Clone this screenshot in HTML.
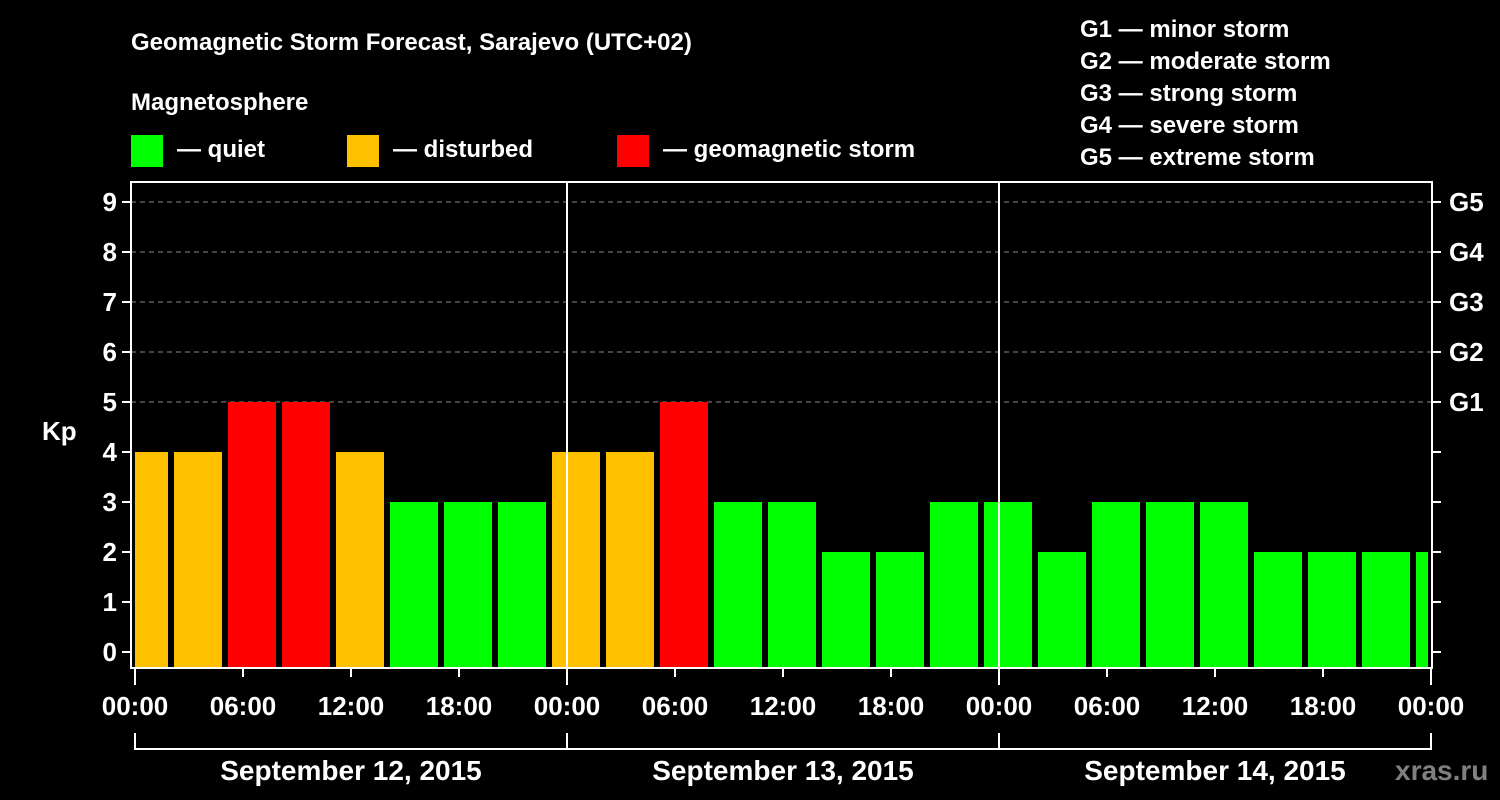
<!DOCTYPE html>
<html><head><meta charset="utf-8"><style>
body{margin:0;background:#000;width:1500px;height:800px;overflow:hidden}
svg{display:block}
text{font-family:"Liberation Sans",Arial,sans-serif;font-weight:bold;fill:#fff}
</style></head><body>
<svg id="c" width="1500" height="800">
<text x="131" y="50" font-size="24">Geomagnetic Storm Forecast, Sarajevo (UTC+02)</text>
<text x="131" y="110" font-size="24">Magnetosphere</text>
<g><rect x="131" y="135" width="32" height="32" fill="#00ff00"/><text x="177" y="157" font-size="24">— quiet</text></g>
<g><rect x="347" y="135" width="32" height="32" fill="#ffc000"/><text x="393" y="157" font-size="24">— disturbed</text></g>
<g><rect x="617" y="135" width="32" height="32" fill="#ff0000"/><text x="663" y="157" font-size="24">— geomagnetic storm</text></g>
<g font-size="24">
<text x="1080" y="37">G1 — minor storm</text>
<text x="1080" y="69">G2 — moderate storm</text>
<text x="1080" y="101">G3 — strong storm</text>
<text x="1080" y="133">G4 — severe storm</text>
<text x="1080" y="165">G5 — extreme storm</text>
</g>
<text x="42" y="440" font-size="26">Kp</text>
<g id="grid"></g><g id="bars"></g><g id="axes"></g>
<text x="1395" y="780" font-size="28" fill="#808080" style="fill:#808080">xras.ru</text>
</svg>
<script>
const kpValues=[4,4,5,5,4,3,3,3,4,4,5,3,3,2,2,3,3,2,3,3,3,2,2,2,2];
const yTicks=[0,1,2,3,4,5,6,7,8,9];
const gLabels=["G1","G2","G3","G4","G5"];
const xTickLabels=["00:00","06:00","12:00","18:00","00:00","06:00","12:00","18:00","00:00","06:00","12:00","18:00","00:00"];
const dayLabels=["September 12, 2015","September 13, 2015","September 14, 2015"];
const NS="http://www.w3.org/2000/svg";
const X0=135,HPX=18,L=131,R=1432,T=182,B=668;
const xh=h=>X0+h*HPX;
const yv=v=>652-v*50;
function mk(p,tag,a){const e=document.createElementNS(NS,tag);for(const k in a)e.setAttribute(k,a[k]);p.appendChild(e);return e;}
const grid=document.getElementById('grid'),bars=document.getElementById('bars'),axes=document.getElementById('axes');
mk(grid,'rect',{x:L,y:T,width:R-L,height:B-T,fill:'#000'});
for(let v=5;v<=9;v++){const g=mk(grid,'line',{x1:L,x2:R,y1:yv(v),y2:yv(v),stroke:'#888','stroke-dasharray':'5,4','stroke-width':1});

}
kpValues.forEach((v,i)=>{
 let x1=xh(-1+3*i)+3,x2=xh(2+3*i)-3;x1=Math.max(x1,L+4);x2=Math.min(x2,R-4);
 const c=v>=5?'#ff0000':(v>=4?'#ffc000':'#00ff00');
 const r=mk(bars,'rect',{x:x1,y:yv(v),width:x2-x1,height:B-yv(v),fill:c});
 
 
});
for(let d=1;d<3;d++){const l=mk(axes,'line',{x1:xh(24*d),x2:xh(24*d),y1:T,y2:B,stroke:'#fff','stroke-width':2});

}
mk(axes,'rect',{x:L,y:T,width:R-L,height:B-T,fill:'none',stroke:'#fff','stroke-width':2});
yTicks.forEach(v=>{
 mk(axes,'line',{x1:L-9,x2:L,y1:yv(v),y2:yv(v),stroke:'#fff','stroke-width':2});
 mk(axes,'line',{x1:R,x2:R+9,y1:yv(v),y2:yv(v),stroke:'#fff','stroke-width':2});
 const t=mk(axes,'text',{x:L-14,y:yv(v)+9,'font-size':26,'text-anchor':'end'});t.textContent=v;
 
 
});
gLabels.forEach((g,i)=>{const t=mk(axes,'text',{x:1449,y:yv(5+i)+9,'font-size':26});t.textContent=g;
 
 });
xTickLabels.forEach((s,i)=>{const x=xh(6*i);
 mk(axes,'line',{x1:x,x2:x,y1:B,y2:B+(i%4===0?17:9),stroke:'#fff','stroke-width':2});
 const t=mk(axes,'text',{x:x,y:715,'font-size':26,'text-anchor':'middle'});t.textContent=s;
 
 });
mk(axes,'line',{x1:xh(0),x2:xh(72),y1:749,y2:749,stroke:'#fff','stroke-width':2});
for(let d=0;d<=3;d++)mk(axes,'line',{x1:xh(24*d),x2:xh(24*d),y1:733,y2:750,stroke:'#fff','stroke-width':2});
dayLabels.forEach((s,i)=>{const t=mk(axes,'text',{x:xh(24*i+12),y:780,'font-size':28,'text-anchor':'middle'});t.textContent=s;
 
 });
</script>
</body></html>
